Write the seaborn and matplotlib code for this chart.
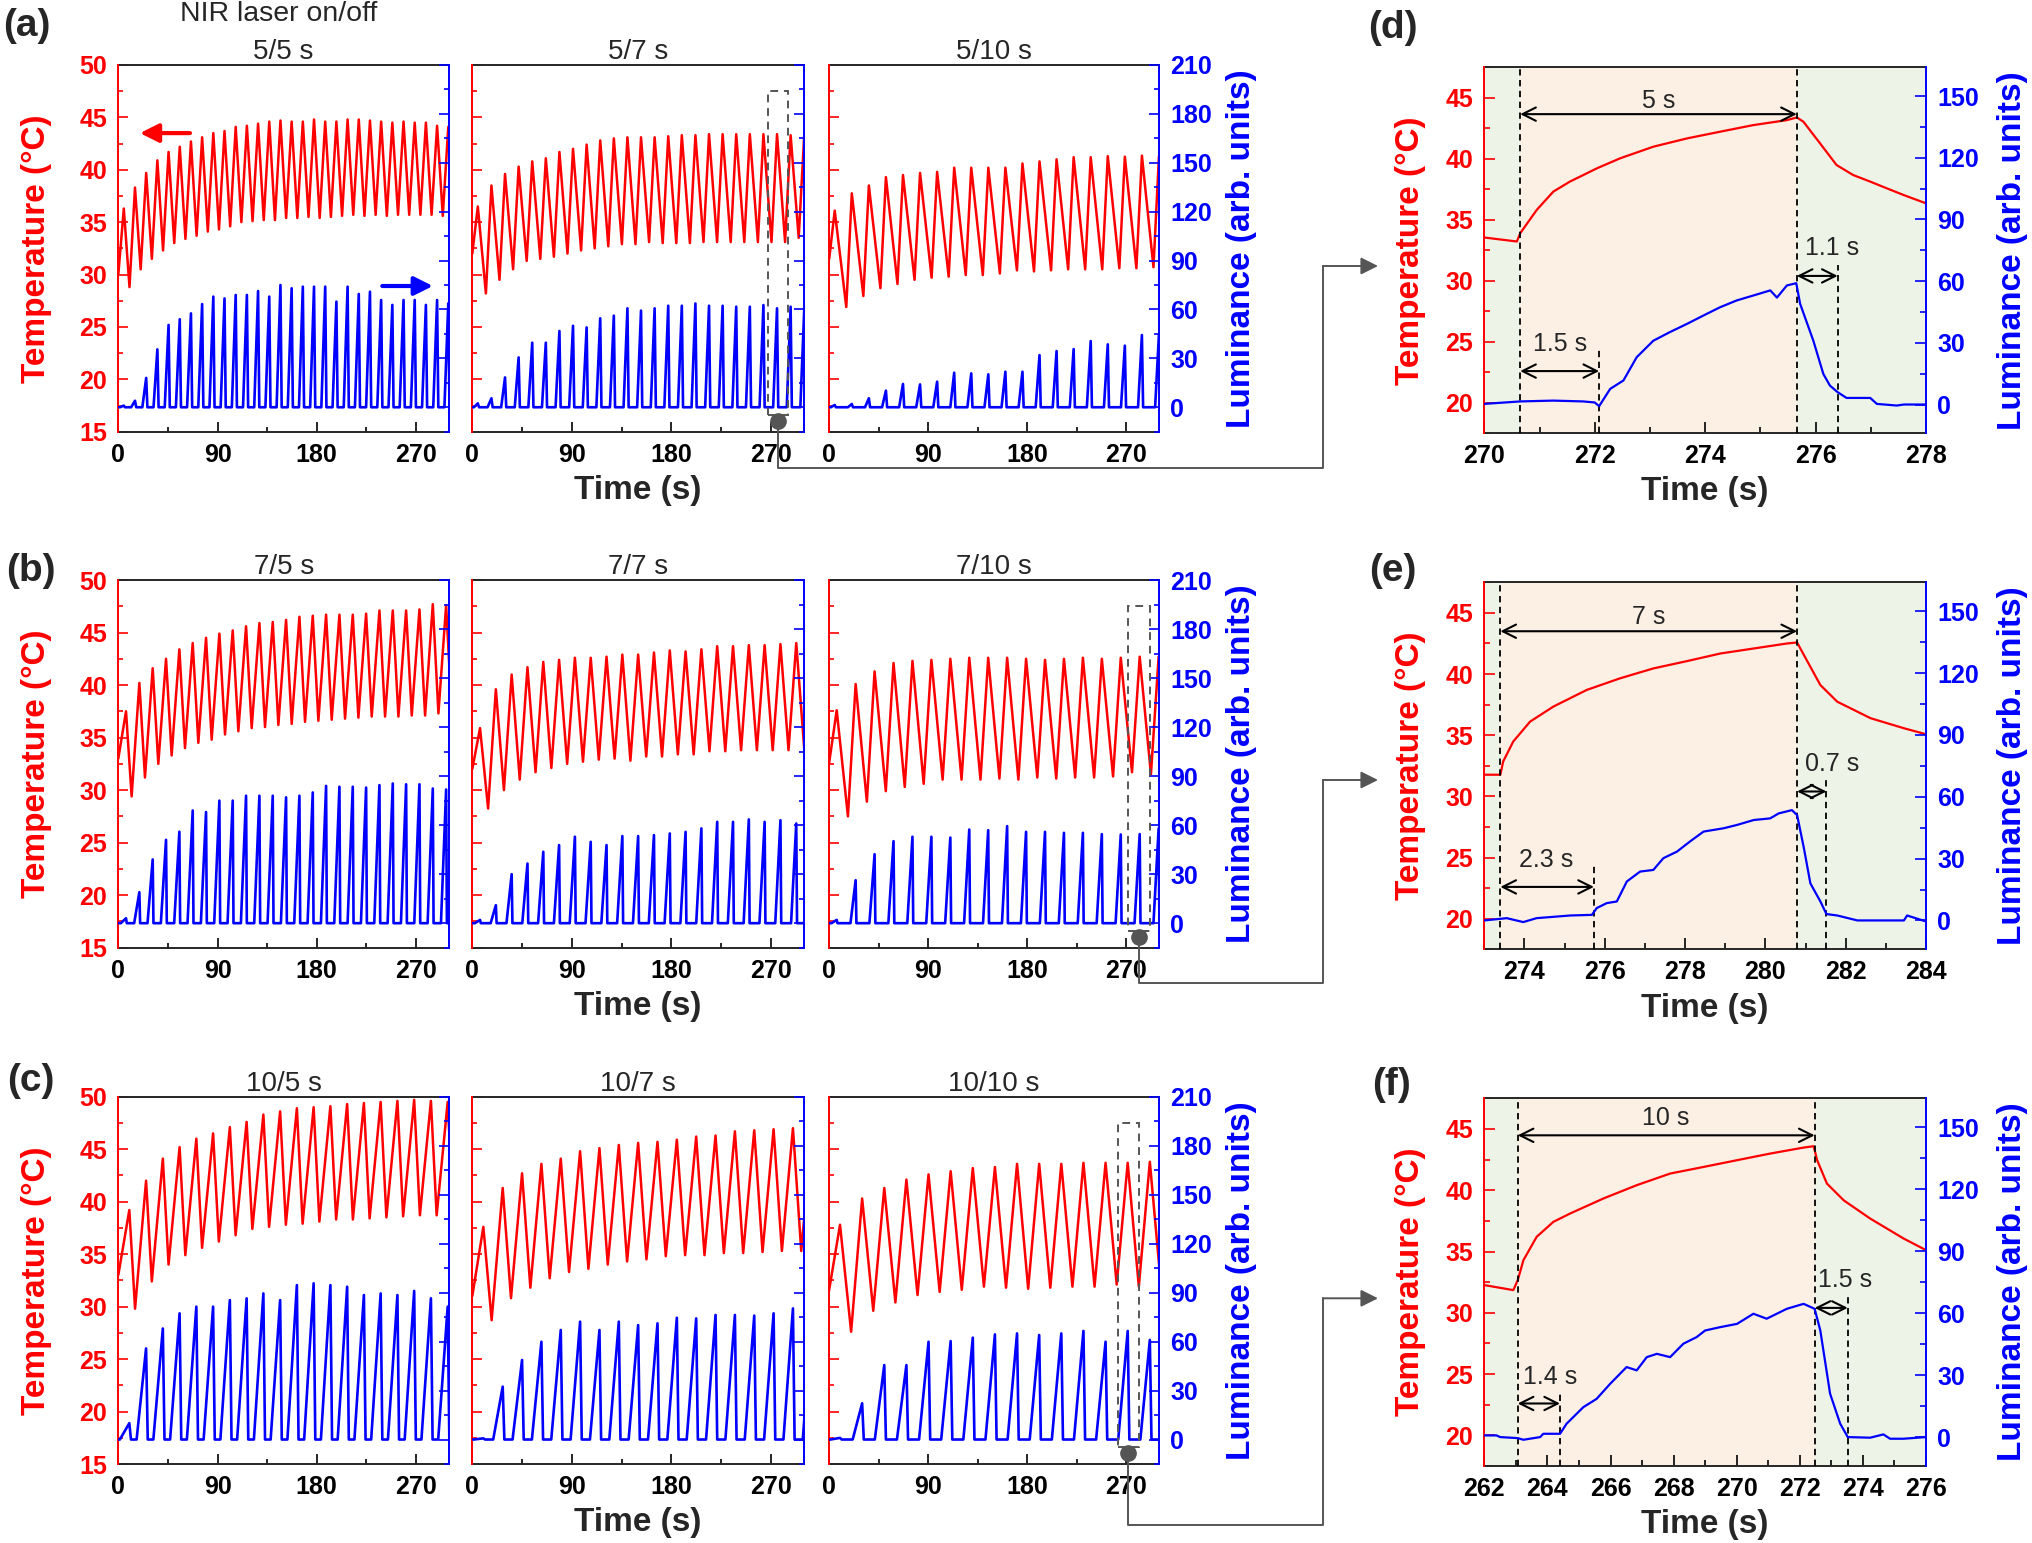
import matplotlib
matplotlib.use("Agg")
import matplotlib.pyplot as plt
import matplotlib.ticker as mticker
from matplotlib.patches import Rectangle, FancyArrowPatch
from matplotlib.lines import Line2D
import pandas as pd
import seaborn as sns

# ---------------- data ----------------
ON_TIME = [5, 7, 10]      # laser on (s), one per row
OFF_TIME = [5, 7, 10]     # laser off (s), one per column
# measured cycle period of every panel (s)
PERIOD = [[10.15, 12.3, 15.5],
          [12.1, 14.3, 17.2],
          [15.2, 17.5, 20.1]]
START = [[0.0, 0.0, 0.2],
         [0.0, 0.0, 0.0],
         [0.0, 0.0, 0.0]]
# luminance onset delay / decay per row (from panels d-f)
LUM_DELAY = [1.5, 2.3, 1.4]
LUM_DECAY = [1.1, 0.7, 1.5]

# temperature maxima per cycle, minima (initial value + one after each cycle), luminance maxima
T_PEAK_5_5 = [36.3, 38.3, 39.7, 40.9, 41.7, 42.2, 42.7, 43.1, 43.5, 43.7, 44.1, 44.2, 44.4, 44.6, 44.7,
              44.6, 44.6, 44.8, 44.6, 44.6, 44.8, 44.8, 44.7, 44.6, 44.5, 44.6, 44.5, 44.5, 44.2, 44.1]
T_LOW_5_5 = [30.0, 28.8, 30.5, 31.5, 32.3, 33.0, 33.4, 33.7, 34.1, 34.3, 34.6, 35.0, 35.1, 35.2, 35.2, 35.4,
             35.4, 35.5, 35.4, 35.5, 35.6, 35.7, 35.6, 35.7, 35.6, 35.7, 35.7, 35.7, 35.7, 35.6, 35.6]
L_PEAK_5_5 = [1, 4, 18, 35.5, 50.5, 54, 57.6, 63.3, 67.9, 66.8, 68.9, 68.9, 71.3, 67.9, 75,
              73, 74, 74, 74, 64.8, 74, 69.5, 70.9, 65.8, 62.8, 65.8, 65.8, 62.8, 65.8, 63.8]

T_PEAK_5_7 = [36.5, 38.5, 39.6, 40.3, 40.8, 41.1, 41.7, 42.0, 42.4, 42.8, 43.0, 43.1, 43.1,
              43.1, 43.2, 43.3, 43.3, 43.4, 43.4, 43.4, 43.4, 43.4, 43.4, 43.3, 43.3]
T_LOW_5_7 = [32.0, 28.2, 29.5, 30.5, 31.3, 31.5, 31.7, 32.0, 32.3, 32.5, 32.7, 32.9, 32.9, 33.1,
             33.0, 33.0, 33.0, 33.1, 33.1, 33.1, 33.1, 33.1, 33.1, 33.1, 33.5, 33.5]
L_PEAK_5_7 = [2.4, 5.5, 18.3, 30.6, 39.6, 39.6, 46.8, 50, 49, 54.6, 56.2, 60.7, 59.3,
              60.7, 62.3, 62.3, 63.7, 62.3, 62.3, 61.7, 61.7, 62.7, 60.7, 61.7, 59.6]

T_PEAK_5_10 = [36.1, 37.75, 38.5, 39.3, 39.5, 39.7, 39.8, 40.2, 40.2, 40.2,
               40.2, 40.6, 40.8, 41.0, 41.2, 41.2, 41.3, 41.25, 41.35, 41.3]
T_LOW_5_10 = [31.5, 26.9, 27.95, 28.7, 29.1, 29.5, 29.7, 29.8, 29.95, 29.95, 30.1,
              30.4, 30.3, 30.4, 30.5, 30.5, 30.5, 30.6, 30.6, 30.7, 30.7]
L_PEAK_5_10 = [1.4, 2, 5.5, 10.2, 14.3, 14, 15.7, 21.2, 20.8, 20.2,
               21.8, 21.8, 32, 34.5, 35.7, 40.6, 38.6, 37.8, 44.3, 45]

T_PEAK_7_5 = [37.5, 40.2, 41.6, 42.5, 43.4, 44.0, 44.5, 44.9, 45.2, 45.6, 45.9, 46.0, 46.2,
              46.5, 46.6, 46.7, 46.7, 46.7, 46.8, 47.1, 47.1, 47.1, 47.2, 47.7, 47.6]
T_LOW_7_5 = [33.0, 29.4, 31.2, 32.5, 33.3, 34.0, 34.5, 34.8, 35.3, 35.6, 35.9, 36.0, 36.2,
             36.3, 36.5, 36.6, 36.7, 36.8, 36.9, 37.0, 37.0, 37.0, 37.1, 37.1, 37.3, 37.3]
L_PEAK_7_5 = [3, 19, 39, 51, 56, 69, 68, 75, 75, 78, 78, 78, 77,
              78, 80, 84, 83.5, 83.5, 83, 84.5, 85.5, 85, 85, 82.4, 81.8]

T_PEAK_7_7 = [35.9, 39.6, 41.0, 41.7, 42.2, 42.4, 42.6, 42.6, 42.7, 42.9, 42.9,
              43.1, 43.3, 43.2, 43.4, 43.7, 43.7, 43.8, 43.8, 43.9, 44.0]
T_LOW_7_7 = [32.0, 28.25, 30.0, 31.0, 31.7, 32.1, 32.5, 32.7, 32.9, 33.0, 32.8,
             33.2, 33.2, 33.4, 33.4, 33.7, 33.7, 33.8, 33.8, 33.8, 33.8, 33.8]
L_PEAK_7_7 = [2, 11, 30, 36.5, 43.7, 47.8, 52.9, 49.8, 47.8, 53.3, 53.3,
              53.9, 54.9, 55.9, 58, 62, 62, 63.5, 62, 63, 61]

T_PEAK_7_10 = [37.6, 40.1, 41.3, 42.1, 42.3, 42.4, 42.5, 42.6, 42.6,
               42.6, 42.5, 42.4, 42.5, 42.6, 42.5, 42.6, 42.7, 42.7]
T_LOW_7_10 = [32.5, 27.5, 28.9, 29.9, 30.3, 30.6, 31.0, 31.0, 31.0, 31.1,
              31.0, 31.2, 31.1, 31.2, 31.2, 31.3, 31.7, 31.5, 31.5]
L_PEAK_7_10 = [2, 26.3, 42.2, 50.2, 52.9, 52.9, 52.4, 57.3, 56.9,
               59.4, 55.9, 55.9, 55.3, 55.3, 54.5, 54.3, 54.5, 58]

T_PEAK_10_5 = [39.2, 42.0, 44.1, 45.2, 46.0, 46.5, 47.1, 47.6, 48.3, 48.6,
               48.9, 49.0, 49.1, 49.3, 49.4, 49.5, 49.6, 49.7, 49.6, 49.5]
T_LOW_10_5 = [33.0, 29.8, 32.4, 34.0, 34.9, 35.6, 36.2, 36.8, 37.4, 37.6, 37.8,
              37.9, 38.1, 38.3, 38.3, 38.4, 38.5, 38.6, 38.7, 38.7, 38.7]
L_PEAK_10_5 = [10, 55.8, 68, 77.3, 81.4, 81.4, 85.4, 86.5, 89.5, 85.4,
               94.6, 95.7, 94.6, 93.6, 88.5, 89.5, 88.5, 91, 86.5, 81.4]

T_PEAK_10_7 = [37.6, 41.3, 42.7, 43.6, 44.1, 44.8, 45.1, 45.4, 45.6,
               45.7, 45.9, 46.2, 46.3, 46.7, 46.8, 46.9, 47.0, 47.0]
T_LOW_10_7 = [31.0, 28.7, 30.8, 31.8, 32.7, 33.3, 33.6, 34.0, 34.3, 34.5,
              34.8, 34.9, 34.9, 35.1, 35.1, 35.2, 35.3, 35.3, 35.3]
L_PEAK_10_7 = [0.7, 32.4, 48.7, 59.9, 67.1, 72.2, 67.1, 72.2, 70.1,
               71.2, 74.6, 74.2, 76.3, 76.3, 75.9, 77.3, 80.3, 78]

T_PEAK_10_10 = [37.8, 40.3, 41.3, 42.1, 42.6, 42.9, 43.2, 43.3, 43.6, 43.6, 43.6, 43.7, 43.7, 43.7, 43.8]
T_LOW_10_10 = [31.5, 27.6, 29.6, 30.4, 31.1, 31.4, 31.6, 31.9, 31.8, 31.7, 31.8, 31.9, 31.9, 32.1, 31.9, 32.0]
L_PEAK_10_10 = [1, 22.2, 45.6, 45.6, 59.9, 60.3, 62.4, 64.4, 65, 64, 65, 66.5, 59.9, 66.5, 61]

PANELS = {(0, 0): (T_PEAK_5_5, T_LOW_5_5, L_PEAK_5_5),
          (0, 1): (T_PEAK_5_7, T_LOW_5_7, L_PEAK_5_7),
          (0, 2): (T_PEAK_5_10, T_LOW_5_10, L_PEAK_5_10),
          (1, 0): (T_PEAK_7_5, T_LOW_7_5, L_PEAK_7_5),
          (1, 1): (T_PEAK_7_7, T_LOW_7_7, L_PEAK_7_7),
          (1, 2): (T_PEAK_7_10, T_LOW_7_10, L_PEAK_7_10),
          (2, 0): (T_PEAK_10_5, T_LOW_10_5, L_PEAK_10_5),
          (2, 1): (T_PEAK_10_7, T_LOW_10_7, L_PEAK_10_7),
          (2, 2): (T_PEAK_10_10, T_LOW_10_10, L_PEAK_10_10)}

# single-cycle close-ups (d), (e), (f)
D_T_TIME = [270.0, 270.59, 270.65, 270.95, 271.25, 271.55, 272.04, 272.46, 273.06, 273.67, 274.27,
            274.87, 275.48, 275.66, 275.78, 276.08, 276.38, 276.68, 276.99, 277.29, 277.59, 278.0]
D_T_VAL = [33.55, 33.22, 33.9, 35.81, 37.31, 38.13, 39.22, 40.04, 40.99, 41.67, 42.22,
           42.76, 43.17, 43.39, 43.04, 41.27, 39.49, 38.67, 38.13, 37.58, 37.04, 36.35]
D_L_TIME = [270.0, 270.65, 271.25, 271.79, 272.0, 272.08, 272.28, 272.52, 272.76, 273.06, 273.36,
            273.67, 273.97, 274.27, 274.57, 274.87, 275.18, 275.3, 275.48, 275.65, 275.72, 275.96,
            276.14, 276.26, 276.40, 276.56, 276.99, 277.11, 277.47, 277.6, 278.0]
D_L_VAL = [0.3, 1.5, 1.9, 1.5, 1.0, -0.8, 7.6, 11.7, 23, 31, 35.2,
           39.2, 43.3, 47.3, 50.6, 53, 55.5, 52, 57.9, 59, 49, 31,
           14.9, 9.2, 6, 3.2, 3.2, 0.3, -0.5, 0, 0]

E_T_TIME = [273.0, 273.4, 273.47, 273.72, 274.14, 274.72, 275.55, 276.38, 277.21, 278.05,
            278.88, 279.71, 280.54, 280.79, 280.96, 281.37, 281.79, 282.62, 283.45, 284.0]
E_T_VAL = [31.77, 31.77, 32.85, 34.48, 36.11, 37.34, 38.7, 39.65, 40.46, 41.06,
           41.68, 42.09, 42.5, 42.58, 41.55, 39.1, 37.74, 36.39, 35.57, 35.08]
E_L_TIME = [273.0, 273.56, 273.97, 274.3, 275.14, 275.68, 275.8, 276.05, 276.3, 276.55, 276.88,
            277.21, 277.46, 277.8, 278.13, 278.46, 278.96, 279.29, 279.71, 280.12, 280.33, 280.66,
            280.79, 280.96, 281.12, 281.37, 281.52, 281.79, 282.29, 283.45, 283.53, 284.0]
E_L_VAL = [0, 1.1, -0.8, 1.1, 2.4, 2.7, 6, 8.4, 9.2, 18.9, 23.7,
           24.5, 30.2, 33.4, 38.4, 43.1, 44.7, 46.3, 48.7, 49.5, 51.9, 53.5,
           51.1, 35, 18, 9.2, 3.1, 2.4, 0, 0, 2.4, -0.5]

F_T_TIME = [262.0, 262.92, 263.06, 263.24, 263.66, 264.19, 264.72, 265.77, 266.83, 267.89, 268.95,
            270.01, 271.06, 272.12, 272.44, 272.55, 272.86, 273.39, 274.23, 275.29, 276.0]
F_T_VAL = [32.26, 31.85, 32.66, 34.29, 36.2, 37.42, 38.1, 39.32, 40.41, 41.36, 41.9,
           42.45, 42.99, 43.48, 43.59, 42.45, 40.54, 39.18, 37.69, 36.06, 35.11]
F_L_TIME = [262.0, 262.39, 262.5, 263.06, 263.24, 263.77, 263.87, 264.4, 264.61, 265.14, 265.56, 265.99,
            266.51, 266.83, 267.15, 267.47, 267.89, 268.31, 268.73, 269.0, 269.47, 270.01, 270.53, 270.95,
            271.59, 272.12, 272.47, 272.65, 272.96, 273.28, 273.52, 274.23, 274.65, 274.86, 275.29, 276.0]
F_L_VAL = [0.8, 0.8, 0, -0.5, -1.3, 0, 1.6, 1.6, 6.5, 14.5, 18.5, 25.8,
           33.9, 32.3, 38.7, 40.3, 38.7, 45.2, 48.4, 51.6, 53.2, 54.8, 59.7, 57.3,
           62.1, 64.5, 62.1, 51.6, 21, 6.5, 0, -0.3, 1.3, -0.8, -0.8, 0]

DETAIL = [(D_T_TIME, D_T_VAL, D_L_TIME, D_L_VAL),
          (E_T_TIME, E_T_VAL, E_L_TIME, E_L_VAL),
          (F_T_TIME, F_T_VAL, F_L_TIME, F_L_VAL)]
D_XLIM = [(270, 278), (273, 284), (262, 276)]
D_ON = [270.65, 273.40, 263.06]
D_ONSET = [272.08, 275.73, 264.40]
D_OFF = [275.66, 280.79, 272.47]
D_END = [276.40, 281.52, 273.52]
D_ON_LABEL = ['5 s', '7 s', '10 s']
D_DELAY_LABEL = ['1.5 s', '2.3 s', '1.4 s']
D_DECAY_LABEL = ['1.1 s', '0.7 s', '1.5 s']

# ---------------- style ----------------
sns.set_theme(style="ticks")
plt.rcParams['font.family'] = ['Liberation Sans', 'DejaVu Sans']
plt.rcParams['font.weight'] = 'bold'
plt.rcParams['axes.titleweight'] = 'normal'
plt.rcParams['axes.labelweight'] = 'bold'

RED, BLUE, GRAY = '#FF0000', '#0000FF', '#555555'
GREEN_BG, PEACH_BG = '#EEF3E7', '#FCEFE4'
TICK_FS = 18
W, H = 2032, 1543
fig = plt.figure(figsize=(W / 100, H / 100), dpi=100)


def px_axes(x0, y0, x1, y1):
    return fig.add_axes([x0 / W, 1 - y1 / H, (x1 - x0) / W, (y1 - y0) / H])


def px(x, y):
    return x / W, 1 - y / H


def style_pair(ax, ax2, show_left, show_right, tick_len):
    ax.spines['left'].set_color(RED)
    ax.spines['right'].set_visible(False)
    for s in ['left', 'top', 'bottom']:
        ax2.spines[s].set_visible(False)
    ax2.spines['right'].set_color(BLUE)
    for sp in list(ax.spines.values()) + [ax2.spines['right']]:
        sp.set_linewidth(1.4)
    ax.tick_params(axis='x', which='both', direction='in', top=False, bottom=True,
                   colors='black', pad=8, labelsize=TICK_FS, width=1.2)
    ax.tick_params(axis='y', which='both', direction='in', left=True, right=False,
                   colors=RED, pad=8, labelsize=TICK_FS, width=1.2, labelleft=show_left)
    ax2.tick_params(axis='y', which='both', direction='in', right=True, left=False,
                    colors=BLUE, pad=8, labelsize=TICK_FS, width=1.2, labelright=show_right)
    for a in (ax, ax2):
        a.tick_params(which='major', length=tick_len)
        a.tick_params(which='minor', length=tick_len * 0.55)
    ax.spines['left'].set_zorder(5)


def temp_trace(on, period, t0, lows, peaks):
    t, v = [], []
    for k, pk in enumerate(peaks):
        s = t0 + k * period
        t += [s, s + on]
        v += [lows[k], pk]
    t.append(t0 + len(peaks) * period)
    v.append(lows[len(peaks)])
    return pd.DataFrame({'time': t, 'temp': v})


def lum_trace(on, period, t0, delay, decay, peaks):
    t, v = [t0], [0.0]
    for k, pk in enumerate(peaks):
        s = t0 + k * period
        t += [s + delay, s + on, s + on + decay]
        v += [0.0, pk, 0.0]
    t.append(t0 + len(peaks) * period + on)
    v.append(0.0)
    return pd.DataFrame({'time': t, 'lum': v})


COL_X = [(118.3, 449), (472.3, 804), (829, 1159.3)]
ROW_Y = [(65, 431.7), (580, 947.7), (1096.7, 1464)]
DET_X = (1484.3, 1926)
DET_Y = [(67.3, 433.3), (582.3, 949.3), (1098.3, 1466)]

lum_axes = {}
for r in range(3):
    for c in range(3):
        ax = px_axes(COL_X[c][0], ROW_Y[r][0], COL_X[c][1], ROW_Y[r][1])
        ax2 = ax.twinx()
        peaks, lows, lpeaks = PANELS[(r, c)]
        on, per, t0 = ON_TIME[r], PERIOD[r][c], START[r][c]
        sns.lineplot(data=temp_trace(on, per, t0, lows, peaks), x='time', y='temp', ax=ax,
                     color=RED, linewidth=1.8, sort=False, estimator=None)
        sns.lineplot(data=lum_trace(on, per, t0, LUM_DELAY[r], LUM_DECAY[r], lpeaks), x='time', y='lum',
                     ax=ax2, color=BLUE, linewidth=1.9, sort=False, estimator=None)
        ax.set_xlim(0, 300)
        ax.set_ylim(15, 50)
        ax2.set_ylim(-15, 210)
        ax.xaxis.set_major_locator(mticker.MultipleLocator(90))
        ax.xaxis.set_minor_locator(mticker.MultipleLocator(45))
        ax.yaxis.set_major_locator(mticker.MultipleLocator(5))
        ax.yaxis.set_minor_locator(mticker.MultipleLocator(2.5))
        ax2.yaxis.set_major_locator(mticker.MultipleLocator(30))
        ax2.yaxis.set_minor_locator(mticker.MultipleLocator(15))
        style_pair(ax, ax2, c == 0, c == 2, 7)
        ax.set_title(f'{ON_TIME[r]}/{OFF_TIME[c]} s', fontsize=20, pad=4)
        ax.set_xlabel('')
        ax.set_ylabel('')
        ax2.set_ylabel('')
        if c == 0:
            ax.set_ylabel('Temperature (°C)', color=RED, fontsize=24)
            ax.yaxis.label.set_va('center')
            ax.yaxis.set_label_coords(-0.246, 0.5)
        if c == 2:
            ax2.set_ylabel('Luminance (arb. units)', color=BLUE, fontsize=24)
            ax2.yaxis.label.set_va('center')
            ax2.yaxis.set_label_coords(1.25, 0.5)
        if c == 1:
            ax.set_xlabel('Time (s)', fontsize=24)
            ax.xaxis.label.set_va('center')
            ax.xaxis.set_label_coords(0.5, -0.16)
        if r == 0 and c == 0:
            ax.annotate('', xy=(19.6, 43.5), xytext=(65, 43.5),
                        arrowprops=dict(arrowstyle='-|>', color=RED, lw=3, mutation_scale=28,
                                        shrinkA=0, shrinkB=0))
            ax2.annotate('', xy=(285.4, 74.4), xytext=(239.5, 74.4),
                         arrowprops=dict(arrowstyle='-|>', color=BLUE, lw=3, mutation_scale=28,
                                         shrinkA=0, shrinkB=0))
        lum_axes[(r, c)] = ax2

# ---------------- close-up panels ----------------
for i in range(3):
    ax = px_axes(DET_X[0], DET_Y[i][0], DET_X[1], DET_Y[i][1])
    ax2 = ax.twinx()
    tt, tv, lt, lv = DETAIL[i]
    x0, x1 = D_XLIM[i]
    ax.axvspan(x0, D_ON[i], color=GREEN_BG, lw=0, zorder=0)
    ax.axvspan(D_ON[i], D_OFF[i], color=PEACH_BG, lw=0, zorder=0)
    ax.axvspan(D_OFF[i], x1, color=GREEN_BG, lw=0, zorder=0)
    sns.lineplot(x=tt, y=tv, ax=ax, color=RED, linewidth=1.6, sort=False, estimator=None)
    sns.lineplot(x=lt, y=lv, ax=ax2, color=BLUE, linewidth=1.6, sort=False, estimator=None)
    ax.set_xlim(x0, x1)
    ax.set_ylim(17.5, 47.5)
    ax2.set_ylim(-14, 164)
    ax.xaxis.set_major_locator(mticker.MultipleLocator(2))
    ax.xaxis.set_minor_locator(mticker.MultipleLocator(1))
    ax.yaxis.set_major_locator(mticker.MultipleLocator(5))
    ax.yaxis.set_minor_locator(mticker.MultipleLocator(2.5))
    ax2.yaxis.set_major_locator(mticker.MultipleLocator(30))
    ax2.yaxis.set_minor_locator(mticker.MultipleLocator(15))
    style_pair(ax, ax2, True, True, 8)

    dash = dict(colors='black', linestyles=(0, (3.5, 2.5)), lw=1.3, zorder=3)
    ax.vlines([D_ON[i], D_OFF[i]], 17.5, 47.5, **dash)
    ax.vlines(D_ONSET[i], 17.5, [24.36, 24.37, 23.56][i], **dash)
    ax.vlines(D_END[i], 17.5, 31.3, **dash)
    arw = dict(arrowstyle='<->', color='black', lw=1.5, mutation_scale=24, shrinkA=0, shrinkB=0)
    y_on = [43.66, 43.5, 44.48][i]
    ax.annotate('', xy=(D_OFF[i], y_on), xytext=(D_ON[i], y_on), arrowprops=arw)
    ax.text((D_ON[i] + D_OFF[i]) / 2, y_on + [1.05, 1.15, 1.4][i], D_ON_LABEL[i],
            ha='center', va='center', fontsize=18, fontweight='normal')
    ax.annotate('', xy=(D_ONSET[i], 22.6), xytext=(D_ON[i], 22.6), arrowprops=arw)
    ax.text([271.37, 274.55, 264.08][i], 24.8, D_DELAY_LABEL[i],
            ha='center', va='center', fontsize=18, fontweight='normal')
    ax.annotate('', xy=(D_END[i], 30.4), xytext=(D_OFF[i], 30.4), arrowprops=arw)
    ax.text([276.29, 281.66, 273.44][i], 32.68, D_DECAY_LABEL[i],
            ha='center', va='center', fontsize=18, fontweight='normal')

    ax.set_xlabel('Time (s)', fontsize=24)
    ax.xaxis.label.set_va('center')
    ax.xaxis.set_label_coords(0.5, -0.16)
    ax.set_ylabel('Temperature (°C)', color=RED, fontsize=24)
    ax.yaxis.label.set_va('center')
    ax.yaxis.set_label_coords(-0.166, 0.5)
    ax2.set_ylabel('Luminance (arb. units)', color=BLUE, fontsize=24)
    ax2.yaxis.label.set_va('center')
    ax2.yaxis.set_label_coords(1.195, 0.5)

# ---------------- zoom boxes and connectors ----------------
ZOOM_PANEL = [1, 2, 2]
ZOOM_SPAN = [(267.7, 285.8), (271.5, 291.1), (262.2, 281.8)]
LINE_Y = [468.3, 982.7, 1525]
ARROW_Y = [266, 780, 1298.3]
for r in range(3):
    ax2 = lum_axes[(r, ZOOM_PANEL[r])]
    a, b = ZOOM_SPAN[r]
    ax2.add_patch(Rectangle((a, -4.5), b - a, 198.5, fill=False, ls=(0, (4, 3)),
                            ec=GRAY, lw=1.4, zorder=6, clip_on=False))
    ax2.plot([(a + b) / 2], [-8.5], 'o', ms=11, color=GRAY, zorder=7, clip_on=False)
    disp = ax2.transData.transform(((a + b) / 2, -8.5))
    fx, fy = fig.transFigure.inverted().transform(disp)
    xs = [fx, fx, 1323 / W, 1323 / W]
    ys = [fy, 1 - LINE_Y[r] / H, 1 - LINE_Y[r] / H, 1 - ARROW_Y[r] / H]
    fig.add_artist(Line2D(xs, ys, transform=fig.transFigure, color=GRAY, lw=1.4))
    fig.add_artist(FancyArrowPatch(px(1323, ARROW_Y[r]), px(1378, ARROW_Y[r]),
                                   transform=fig.transFigure, arrowstyle='-|>', mutation_scale=26,
                                   color=GRAY, lw=1.4, shrinkA=0, shrinkB=0))

# ---------------- figure text ----------------
fig.text(*px(278.5, 14), 'NIR laser on/off', ha='center', va='center', fontsize=20.5, fontweight='normal')
for lab, (x, y) in zip(['(a)', '(b)', '(c)', '(d)', '(e)', '(f)'],
                       [(27, 26), (31, 571), (31, 1081), (1393, 28), (1393, 571), (1391, 1085)]):
    fig.text(*px(x, y), lab, ha='center', va='center', fontsize=28, fontweight='bold')

fig.savefig('out.png', dpi=100)
